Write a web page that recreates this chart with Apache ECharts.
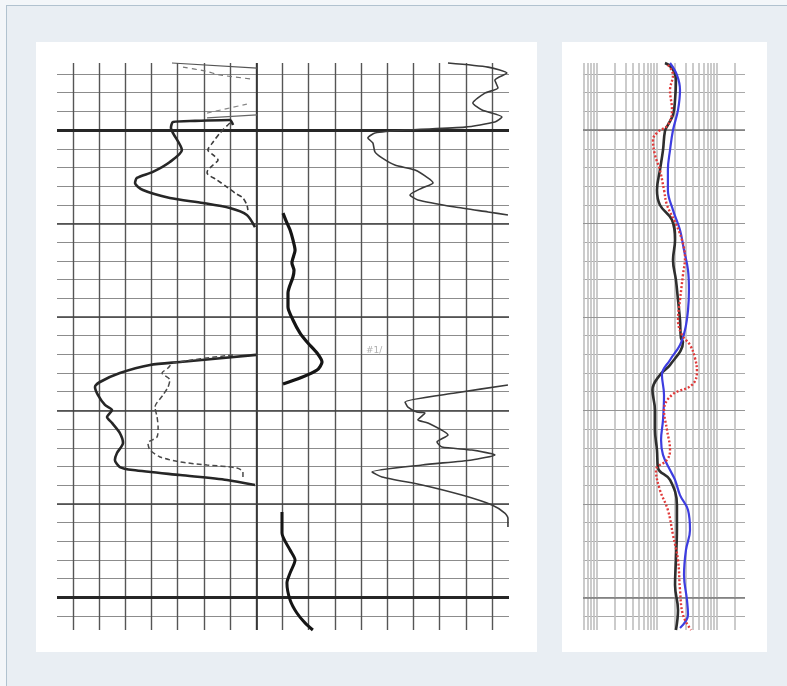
<!DOCTYPE html>
<html>
<head>
<meta charset="utf-8">
<script src="https://cdn.jsdelivr.net/npm/echarts@6/dist/echarts.min.js"></script>
<style>
html,body{margin:0;padding:0;background:#f3f6f9;}
#frame{position:absolute;left:6px;top:5px;width:781px;height:681px;background:#e9eef3;border-left:1px solid #b1c2cf;border-top:1px solid #b1c2cf;box-sizing:border-box;}
.panel{position:absolute;background:#ffffff;}
#p1{left:36px;top:42px;width:501px;height:610px;}
#p2{left:562px;top:42px;width:205px;height:610px;}
#chart{position:absolute;left:0;top:0;width:787px;height:686px;}
</style>
</head>
<body>
<div id="frame"></div>
<div class="panel" id="p1"></div>
<div class="panel" id="p2"></div>
<div id="chart"></div>
<script>
// ---- Left log sheet (track units 0-160, depth units: 10 per division) ----
const leftScribbleTop = [[37.8,-5.9],[70.3,-3.2]];
const leftScribbleMid = [[51.2,23.5],[70.3,21.9]];
const leftScribbleDashedTop = [[42.0,-3.7],[50.4,-1.6],[56.1,0.5],[68.3,2.7]];
const leftScribbleDashedMid = [[51.2,20.9],[66.4,16.1]];

const leftSolidUpper = [[61.1,27.3],[59.9,24.6],[46.6,25.1],[38.2,25.7],[37.4,28.9],[38.2,31.6],[41.6,40.7],[37.0,47.1],[30.5,52.4],[24.4,55.6],[23.7,58.3],[26.7,62.1],[37.0,66.3],[49.6,69.0],[59.9,71.7],[66.4,75.4],[69.5,81.9]];
const leftDashedUpper = [[59.9,26.2],[56.1,31.6],[53.5,36.4],[51.5,40.7],[53.5,43.3],[55.4,46.0],[53.5,48.7],[51.5,51.4],[51.2,53.0],[55.0,56.7],[58.8,60.5],[61.9,63.7],[64.9,66.3],[66.4,70.1],[66.8,72.8]];
const leftSolidLower = [[69.9,150.3],[40.9,154.1],[29.4,155.7],[17.9,160.0],[10.3,164.8],[8.4,167.5],[9.5,171.7],[12.2,177.1],[14.9,179.8],[13.0,183.5],[14.9,186.7],[17.9,192.1],[19.1,197.4],[16.8,202.8],[16.0,206.5],[17.9,210.3],[22.9,211.9],[40.9,214.6],[58.8,217.2],[69.5,219.9]];
const leftDashedLower = [[61.1,150.3],[38.2,154.6],[36.3,157.3],[34.0,160.0],[37.0,163.7],[36.3,167.5],[34.4,171.7],[31.3,178.2],[32.1,183.5],[32.5,188.9],[32.1,194.2],[28.6,197.4],[29.4,201.2],[33.2,204.9],[40.9,207.6],[51.2,209.2],[62.6,210.8],[64.9,212.9],[64.9,216.2]];

const midUpper = [[80.2,74.4],[81.7,79.7],[82.9,83.5],[84.0,88.8],[84.8,94.2],[83.6,101.1],[84.4,105.0],[84.0,108.6],[82.1,117.2],[82.1,124.7],[84.0,131.6],[86.7,138.6],[89.7,143.9],[93.2,149.3],[95.1,154.1],[93.2,158.4],[86.7,162.7],[80.2,165.9]];
const midLower = [[79.8,234.3],[79.8,245.6],[82.9,254.7],[84.8,260.0],[82.9,267.0],[81.7,272.3],[82.9,281.4],[85.5,288.4],[88.6,293.7],[91.6,297.5]];

const rightUpper = [[143.2,-5.9],[158.5,-3.7],[165.7,-0.5],[161.1,3.2],[162.3,7.5],[157.3,10.2],[152.7,15.5],[156.2,19.3],[163.8,23.0],[161.1,25.7],[149.7,28.4],[126.8,30.0],[115.3,31.6],[112.6,34.2],[114.5,36.9],[115.3,41.7],[118.0,44.9],[122.9,48.7],[130.6,51.4],[135.5,55.6],[137.5,58.3],[133.3,61.0],[128.7,64.7],[131.7,67.4],[145.9,71.2],[158.5,73.8],[166.1,75.4]];
const rightLower = [[166.1,166.4],[145.9,170.7],[126.8,175.5],[127.9,178.2],[131.3,180.8],[134.4,181.4],[131.7,185.1],[135.5,186.7],[143.2,193.2],[139.0,196.9],[140.9,199.6],[152.3,201.2],[161.1,203.8],[152.3,206.5],[133.3,209.2],[114.2,212.9],[118.0,215.6],[133.3,219.9],[148.5,225.3],[160.0,230.6],[164.9,234.9],[166.1,237.6],[166.1,242.4]];

// ---- Right resistivity panel (log scale values, same depth units) ----
const resBlack = [[13.6,-5.9],[17.8,-3.2],[20.7,3.2],[20.0,13.9],[18.5,21.9],[15.2,27.3],[13.6,30.5],[12.6,40.7],[11.2,51.4],[10.0,62.1],[11.2,70.1],[17.8,78.1],[20.0,88.8],[18.5,99.5],[20.7,110.2],[22.4,120.9],[24.2,131.6],[25.1,141.3],[27.1,143.4],[16.5,155.7],[11.2,161.0],[8.4,169.1],[9.26,179.8],[9.26,190.5],[10.0,201.2],[10.4,210.8],[16.5,217.2],[21.5,230.6],[21.5,244.0],[20.7,260.0],[20.0,273.4],[22.4,286.8],[20.7,297.5]];
const resBlue = [[16.5,-5.9],[21.5,0.5],[24.2,8.6],[22.4,19.3],[18.5,30.0],[16.5,40.7],[15.2,51.4],[15.2,62.1],[18.5,72.8],[24.2,83.5],[28.2,94.2],[32.9,104.9],[34.1,115.6],[32.9,126.3],[29.3,137.0],[24.2,145.0],[16.5,153.0],[12.1,161.0],[13.1,171.7],[12.6,185.1],[11.7,195.8],[12.6,203.8],[16.5,211.9],[20.0,217.2],[24.2,225.3],[32.9,233.3],[35.5,244.0],[30.4,254.7],[28.2,268.1],[31.6,281.4],[32.9,289.4],[24.2,296.4]];
const resRed = [[15.2,-4.8],[18.5,0.5],[16.5,8.6],[17.8,19.3],[15.2,27.3],[10.4,31.0],[8.58,35.3],[9.26,43.3],[11.2,51.4],[13.1,62.1],[14.7,70.1],[20.0,79.2],[26.1,88.8],[29.3,98.4],[27.1,107.5],[24.2,120.9],[22.4,131.6],[26.1,139.6],[35.5,145.0],[43.0,152.0],[46.4,159.4],[38.3,166.4],[17.8,171.7],[13.1,179.8],[14.7,190.5],[16.5,201.2],[14.7,206.5],[9.62,211.9],[11.2,222.6],[15.2,233.3],[18.5,246.7],[22.4,260.0],[24.2,276.1],[27.1,289.4],[36.9,297.5]];

// ---- grid reference values ----
const majorDepths = [80, 130, 180, 230];
const boundaryDepths = [30, 280];
const darkTrackLine = [70];
const logGridValues = [0.6,0.7,0.8,0.9,1,2,3,4,5,6,7,8,9,10,20,30,40,50,60,70,80,90,100,200];

const chart = echarts.init(document.getElementById('chart'), null, {renderer:'canvas'});

const hidden = {axisLine:{show:false}, axisTick:{show:false}, axisLabel:{show:false}};
function curve(data, xi, style, extra){
  return Object.assign({type:'line', xAxisIndex:xi, yAxisIndex:xi, data:data, showSymbol:false, symbol:'none',
    smooth:0.25, clip:false, silent:true, z:5, lineStyle:style}, extra||{});
}
function hLines(vals, xi, color, width){
  return {type:'line', xAxisIndex:xi, yAxisIndex:xi, data:[], silent:true, z:1,
    markLine:{symbol:'none', silent:true, animation:false, label:{show:false},
      lineStyle:{color:color, width:width, type:'solid'}, data: vals.map(v=>({yAxis:v}))}};
}
function vLines(vals, xi, color, width){
  return {type:'line', xAxisIndex:xi, yAxisIndex:xi, data:[], silent:true, z:1,
    markLine:{symbol:'none', silent:true, animation:false, label:{show:false},
      lineStyle:{color:color, width:width, type:'solid'}, data: vals.map(v=>({xAxis:v}))}};
}

const option = {
  animation:false,
  backgroundColor:'transparent',
  grid:[
    {left:73, top:63, width:436, height:567},
    {left:57, top:74, width:452, height:542},
    {left:583, top:63, width:162, height:567},
    {left:583, top:74, width:162, height:542}
  ],
  xAxis:[
    Object.assign({gridIndex:0, type:'value', min:0, max:166.5, interval:10,
      splitLine:{show:true, showMaxLine:false, lineStyle:{color:'#555555', width:1.4}}}, hidden),
    {gridIndex:1, type:'value', min:0, max:1, show:false},
    Object.assign({gridIndex:2, type:'log', logBase:10, min:0.585, max:293, splitLine:{show:false}}, hidden),
    {gridIndex:3, type:'value', min:0, max:1, show:false}
  ],
  yAxis:[
    Object.assign({gridIndex:0, type:'value', inverse:true, min:-5.89, max:297.5, splitLine:{show:false}}, hidden),
    Object.assign({gridIndex:1, type:'value', inverse:true, min:0, max:290, interval:10,
      splitLine:{show:true, lineStyle:{color:'#8c8c8c', width:1.2}}}, hidden),
    Object.assign({gridIndex:2, type:'value', inverse:true, min:-5.89, max:297.5, splitLine:{show:false}}, hidden),
    Object.assign({gridIndex:3, type:'value', inverse:true, min:0, max:290, interval:10,
      splitLine:{show:true, lineStyle:{color:'#a9a9a9', width:1}}}, hidden)
  ],
  graphic:[
    {type:'text', left:366, top:346, z:10, silent:true,
      style:{text:'#1/', fill:'#b0b0b0', font:'9px "DejaVu Sans"'}}
  ],
  series:[
    // grid decorations
    vLines(darkTrackLine, 0, '#333333', 1.7),
    hLines(majorDepths, 1, '#404040', 1.7),
    hLines(boundaryDepths, 1, '#262626', 3),
    vLines(logGridValues, 2, '#c2c2c2', 1.7),
    hLines(majorDepths, 3, '#959595', 1.2),
    hLines(boundaryDepths, 3, '#777777', 1.6),
    // left sheet curves
    curve(leftScribbleTop, 0, {color:'#555', width:1.2}),
    curve(leftScribbleMid, 0, {color:'#666', width:1.2}),
    curve(leftScribbleDashedTop, 0, {color:'#777', width:1.2, type:[5,4]}),
    curve(leftScribbleDashedMid, 0, {color:'#888', width:1.2, type:[5,4]}),
    curve(leftSolidUpper, 0, {color:'#262626', width:2.6}),
    curve(leftDashedUpper, 0, {color:'#3c3c3c', width:1.6, type:[5,3]}),
    curve(leftSolidLower, 0, {color:'#262626', width:2.6}),
    curve(leftDashedLower, 0, {color:'#4a4a4a', width:1.5, type:[5,3]}),
    curve(midUpper, 0, {color:'#151515', width:3.2}),
    curve(midLower, 0, {color:'#151515', width:3}),
    curve(rightUpper, 0, {color:'#3a3a3a', width:1.6}, {smooth:0.2}),
    curve(rightLower, 0, {color:'#3a3a3a', width:1.6}, {smooth:0.2}),
    // right resistivity curves
    curve(resBlack, 2, {color:'#2e2e2e', width:2.6}, {smooth:0.4}),
    curve(resBlue, 2, {color:'#3d3de0', width:2.2}, {smooth:0.4}),
    curve(resRed, 2, {color:'#e03a3a', width:2.4, type:[2,2]}, {smooth:0.4})
  ]
};
chart.setOption(option);
</script>
</body>
</html>
